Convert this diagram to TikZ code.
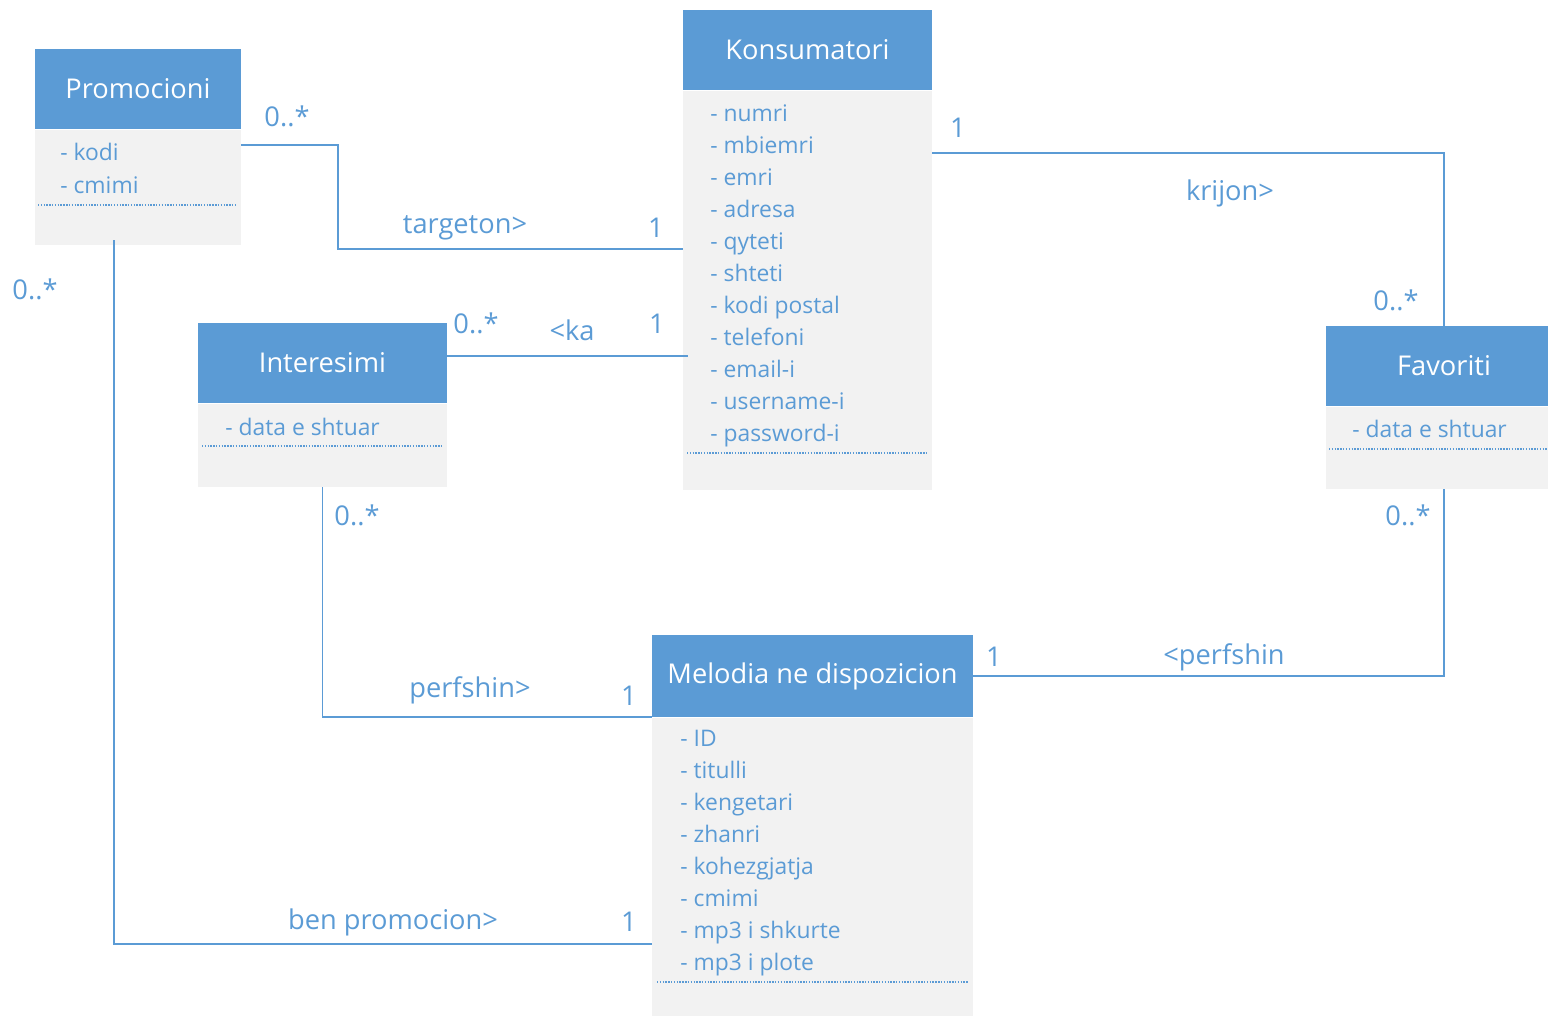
\documentclass[tikz,border=0pt]{standalone}
\usepackage{fontspec}
\setmainfont{Open Sans}
\usetikzlibrary{positioning}
\definecolor{umlblue}{HTML}{5B9BD5}
\definecolor{umlgray}{HTML}{F2F2F2}
\tikzset{
  head/.style={fill=umlblue, text=white, font=\fontsize{15.5}{18}\selectfont, minimum height=1.6cm, inner sep=0pt},
  body/.style={fill=umlgray, inner sep=0pt},
  attr/.style={text=umlblue, font=\fontsize{13}{16}\selectfont, anchor=base west, inner sep=0pt},
  sep/.style={umlblue, line width=0.6pt, dash pattern=on 0.8pt off 0.8pt},
  assoc/.style={umlblue, line width=1.1pt},
  lbl/.style={text=umlblue, font=\fontsize{15.5}{18}\selectfont, inner sep=0pt}
}
\begin{document}
\begin{tikzpicture}[x=0.02cm, y=-0.02cm]
\useasboundingbox (0,0) rectangle (1548,1016);
% classes
\node[head, minimum width=4.12cm] (promH) at (138,89) {Promocioni};
\node[body, minimum width=4.12cm, minimum height=2.3cm, below=0pt of promH] (promB) {};
\foreach \t [count=\i from 0] in {kodi,cmimi}
  \node[attr] (promA\i) at (60,161+33*\i) {- \t};
\draw[sep] (38,205) -- (236,205);

\node[head, minimum width=4.98cm] (konsH) at (807.5,50) {Konsumatori};
\node[body, minimum width=4.98cm, minimum height=7.98cm, below=0pt of konsH] (konsB) {};
\foreach \t [count=\i from 0] in {numri,mbiemri,emri,adresa,qyteti,shteti,kodi postal,telefoni,email-i,username-i,password-i}
  \node[attr] (konsA\i) at (710,122+32*\i) {- \t};
\draw[sep] (687,453) -- (928,453);

\node[head, minimum width=4.98cm] (intH) at (322.5,363) {Interesimi};
\node[body, minimum width=4.98cm, minimum height=1.66cm, below=0pt of intH] (intB) {};
\node[attr] (intA0) at (225,436) {- data e shtuar};
\draw[sep] (202,446) -- (443,446);

\node[head, minimum width=4.72cm] (favH) at (1444,366) {Favoriti};
\node[body, minimum width=4.72cm, minimum height=1.64cm, below=0pt of favH] (favB) {};
\node[attr] (favA0) at (1352,438) {- data e shtuar};
\draw[sep] (1329,449) -- (1548,449);

\node[head, minimum width=6.42cm, minimum height=1.64cm] (melH) at (812.5,676) {Melodia ne dispozicion};
\node[body, minimum width=6.42cm, minimum height=6.2cm, below=0pt of melH] (melB) {};
\foreach \t [count=\i from 0] in {ID,titulli,kengetari,zhanri,kohezgjatja,cmimi,mp3 i shkurte,mp3 i plote}
  \node[attr] (melA\i) at (680,746+32.1*\i) {- \t};
\draw[sep] (657,982) -- (968,982);

% connectors
\coordinate (promR) at ([yshift=-0.32cm]promB.north east);
\coordinate (konsL) at ([yshift=-3.18cm]konsB.north west);
\coordinate (konsR) at ([yshift=-1.26cm]konsB.north east);
\coordinate (intR) at ([yshift=-0.66cm]intH.north east);
\coordinate (promD) at ([xshift=1.58cm,yshift=0.1cm]promB.south west);
\coordinate (melL) at ([yshift=-4.54cm]melB.north west);
\draw[assoc] (promR) -- ++(97,0) |- (konsL);
\draw[assoc] (konsR) -| (favH.north);
\draw[assoc] (intR) -- ([xshift=0.1cm]intR -| konsB.west);
\draw[assoc] (intB.south) |- (melH.south west);
\draw[assoc] (favB.south) |- (melH.east);
\draw[assoc] (promD) |- (melL);

% multiplicities and names
\node[lbl] (targM) at (287,116) {0..*};
\node[lbl] (targN) at (465,228) {targeton>};
\node[lbl] (targK) at (656,228) {1};
\node[lbl] (krijK) at (958,128) {1};
\node[lbl] (krijN) at (1230,193) {krijon>};
\node[lbl] (krijF) at (1396,300) {0..*};
\node[lbl] (kaI) at (476,323) {0..*};
\node[lbl] (kaN) at (572,330) {<ka};
\node[lbl] (kaK) at (657,324) {1};
\node[lbl] (perfI) at (357,515) {0..*};
\node[lbl] (perfN) at (470,690) {perfshin>};
\node[lbl] (perfM) at (629,696) {1};
\node[lbl] (favF) at (1408,515) {0..*};
\node[lbl] (favN) at (1224,657) {<perfshin};
\node[lbl] (favM) at (994,657) {1};
\node[lbl] (benP) at (35,289) {0..*};
\node[lbl] (benN) at (393,922) {ben promocion>};
\node[lbl] (benM) at (629,922) {1};
\end{tikzpicture}
\end{document}
